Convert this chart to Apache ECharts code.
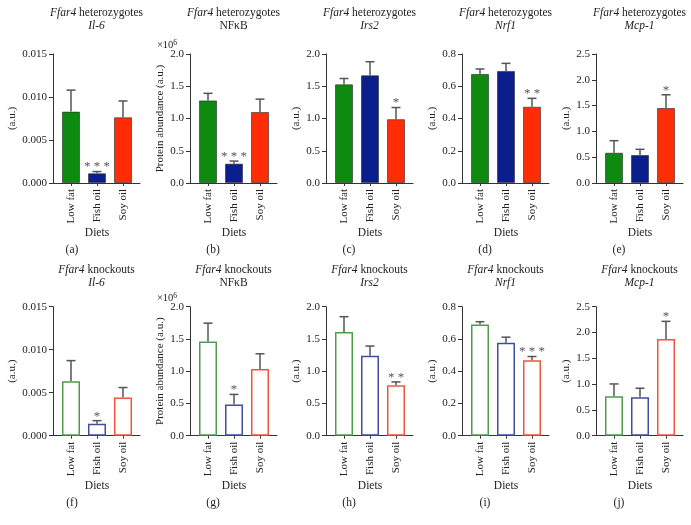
<!DOCTYPE html>
<html>
<head>
<meta charset="utf-8">
<script src="https://cdn.jsdelivr.net/npm/echarts@6/dist/echarts.min.js"></script>
<style>html,body{margin:0;padding:0;background:#fff}#c{width:691px;height:525px}</style>
</head>
<body>
<div id="c"></div>
<script>
// ---------- data ----------
const categories = ['Low fat', 'Fish oil', 'Soy oil'];

const hetIl6 = [0.0083, 0.00113, 0.00764];
const hetIl6Sem = [0.0025, 0.0002, 0.0019];
const hetIl6Stars = ['', '* * *', ''];

const hetNfkb = [1.28, 0.30, 1.10];
const hetNfkbSem = [0.11, 0.04, 0.20];
const hetNfkbStars = ['', '* * *', ''];

const hetIrs2 = [1.53, 1.67, 0.99];
const hetIrs2Sem = [0.09, 0.21, 0.18];
const hetIrs2Stars = ['', '', '*'];

const hetNrf1 = [0.676, 0.695, 0.473];
const hetNrf1Sem = [0.031, 0.047, 0.052];
const hetNrf1Stars = ['', '', '* *'];

const hetMcp1 = [0.587, 0.543, 1.453];
const hetMcp1Sem = [0.233, 0.11, 0.257];
const hetMcp1Stars = ['', '', '*'];

const koIl6 = [0.00633, 0.0014, 0.00443];
const koIl6Sem = [0.0024, 0.00035, 0.00117];
const koIl6Stars = ['', '*', ''];

const koNfkb = [1.46, 0.485, 1.036];
const koNfkbSem = [0.285, 0.155, 0.234];
const koNfkbStars = ['', '*', ''];

const koIrs2 = [1.607, 1.238, 0.783];
const koIrs2Sem = [0.238, 0.152, 0.051];
const koIrs2Stars = ['', '', '* *'];

const koNrf1 = [0.69, 0.576, 0.468];
const koNrf1Sem = [0.017, 0.035, 0.023];
const koNrf1Stars = ['', '', '* * *'];

const koMcp1 = [0.764, 0.745, 1.872];
const koMcp1Sem = [0.239, 0.175, 0.344];
const koMcp1Stars = ['', '', '*'];

// axis scales: [max, interval, decimals]
const il6Axis = [0.015, 0.005, 3];
const nfkbAxis = [2.0, 0.5, 1];
const irs2Axis = [2.0, 0.5, 1];
const nrf1Axis = [0.8, 0.2, 1];
const mcp1Axis = [2.5, 0.5, 1];

const panelLetters = ['(a)','(b)','(c)','(d)','(e)','(f)','(g)','(h)','(i)','(j)'];
const groupNames = ['heterozygotes', 'knockouts'];
const genes = [['Il-6', true], ['NFκB', false], ['Irs2', true], ['Nrf1', true], ['Mcp-1', true]];

// ---------- layout / style ----------
const FONT = 'Liberation Serif';
const TXT = '#222';
const fillColors = ['#0f8a10', '#0a1e8c', '#ff2d05'];
const lineColors = ['#4f9c4f', '#3f4ea2', '#ee5640'];
const colLeft = [53, 190, 326, 462, 596];
const rowTop = [54, 306.7];
const plotH = 129;
const outerW = 87;

const panels = [
  [hetIl6, hetIl6Sem, hetIl6Stars, il6Axis],
  [hetNfkb, hetNfkbSem, hetNfkbStars, nfkbAxis],
  [hetIrs2, hetIrs2Sem, hetIrs2Stars, irs2Axis],
  [hetNrf1, hetNrf1Sem, hetNrf1Stars, nrf1Axis],
  [hetMcp1, hetMcp1Sem, hetMcp1Stars, mcp1Axis],
  [koIl6, koIl6Sem, koIl6Stars, il6Axis],
  [koNfkb, koNfkbSem, koNfkbStars, nfkbAxis],
  [koIrs2, koIrs2Sem, koIrs2Stars, irs2Axis],
  [koNrf1, koNrf1Sem, koNrf1Stars, nrf1Axis],
  [koMcp1, koMcp1Sem, koMcp1Stars, mcp1Axis]
];

const grid = [], xAxis = [], yAxis = [], series = [], title = [];
const axisLineStyle = { color: '#333', width: 1 };

panels.forEach((p, k) => {
  const r = Math.floor(k / 5), c = k % 5;
  const [vals, sems, stars, ax] = p;
  const [max, interval, dec] = ax;
  const L = colLeft[c], T = rowTop[r];
  const isNf = c === 1;
  const gi = 2 * k;

  grid.push({ left: L, top: T, width: outerW, height: plotH });
  grid.push({ left: L + 5, top: T, width: 78, height: plotH });

  xAxis.push({ gridIndex: gi, type: 'value', min: 0, max: 1,
    axisLine: { show: true, lineStyle: axisLineStyle }, axisTick: { show: false },
    axisLabel: { show: false }, splitLine: { show: false } });
  xAxis.push({ gridIndex: gi + 1, type: 'category', data: categories,
    axisLine: { show: false },
    axisTick: { show: true, alignWithLabel: true, length: 3, lineStyle: axisLineStyle },
    axisLabel: { rotate: 90, margin: 6, fontFamily: FONT, fontSize: 11, color: TXT },
    name: 'Diets', nameLocation: 'middle', nameGap: 43,
    nameTextStyle: { fontFamily: FONT, fontSize: 11.5, color: TXT } });

  yAxis.push({ gridIndex: gi, type: 'value', min: 0, max: max, interval: interval,
    axisLine: { show: true, lineStyle: axisLineStyle },
    axisTick: { show: true, length: 4, lineStyle: axisLineStyle },
    axisLabel: { margin: 6, fontFamily: FONT, fontSize: 11, color: TXT,
      formatter: v => v.toFixed(dec) },
    splitLine: { show: false },
    name: isNf ? 'Protein abundance (a.u.)' : '(a.u.)',
    nameLocation: 'middle', nameRotate: 90,
    nameGap: dec === 3 ? 35 : 24,
    nameTextStyle: { fontFamily: FONT, fontSize: 11, color: TXT } });
  yAxis.push({ gridIndex: gi + 1, type: 'value', min: 0, max: max, show: false });

  const filled = r === 0;
  series.push({
    type: 'bar', xAxisIndex: gi + 1, yAxisIndex: gi + 1, barWidth: 18, z: 3,
    data: vals.map((v, i) => ({
      value: v,
      itemStyle: filled
        ? { color: fillColors[i], borderColor: 'rgba(40,40,40,0.6)', borderWidth: 1 }
        : { color: '#ffffff', borderColor: lineColors[i], borderWidth: 1.5 }
    }))
  });

  series.push({
    type: 'custom', xAxisIndex: gi + 1, yAxisIndex: gi + 1, z: 2,
    data: vals.map((v, i) => [i, v, v + sems[i]]),
    renderItem: (params, api) => {
      const i = api.value(0);
      const p0 = api.coord([i, api.value(1)]);
      const p1 = api.coord([i, api.value(2)]);
      const st = { stroke: '#555', lineWidth: 1.5 };
      const children = [
        { type: 'line', shape: { x1: p0[0], y1: p0[1], x2: p1[0], y2: p1[1] }, style: st },
        { type: 'line', shape: { x1: p1[0] - 4.5, y1: p1[1], x2: p1[0] + 4.5, y2: p1[1] }, style: st }
      ];
      const s = stars[i];
      if (s) {
        children.push({ type: 'text', style: { text: s, x: p1[0], y: p1[1] + 2,
          textAlign: 'center', textVerticalAlign: 'bottom',
          fontFamily: FONT, fontSize: 13, fill: '#555' } });
      }
      return { type: 'group', children: children };
    }
  });

  // panel title
  const g = genes[c];
  const second = g[1] ? '{i|' + g[0] + '}' : '{n|' + g[0] + '}';
  title.push({
    text: '{i|Ffar4}{n| ' + groupNames[r] + '}\n' + second,
    left: L + outerW / 2, top: r === 0 ? 7 : 264, textAlign: 'center', padding: 0,
    textStyle: { fontWeight: 'normal', lineHeight: 12.5, rich: {
      i: { fontFamily: FONT, fontSize: 11.5, fontStyle: 'italic', fontWeight: 'normal', color: TXT, lineHeight: 12.5 },
      n: { fontFamily: FONT, fontSize: 11.5, fontWeight: 'normal', color: TXT, lineHeight: 12.5 } } }
  });
  // panel letter
  title.push({
    text: panelLetters[k], left: L + (c === 0 ? 19 : 23), top: r === 0 ? 244 : 497,
    textAlign: 'center', padding: 0,
    textStyle: { fontFamily: FONT, fontSize: 11.5, fontWeight: 'normal', color: TXT }
  });
  if (isNf) {
    title.push({
      text: '{n|×10}{s|6}', left: L - 23, top: T - 15, textAlign: 'center', padding: 0,
      textStyle: { fontWeight: 'normal', rich: {
        n: { fontFamily: FONT, fontSize: 10.5, fontWeight: 'normal', color: TXT, lineHeight: 12, verticalAlign: 'bottom' },
        s: { fontFamily: FONT, fontSize: 7.5, fontWeight: 'normal', color: TXT, lineHeight: 12, verticalAlign: 'top' } } }
    });
  }
});

const chart = echarts.init(document.getElementById('c'), null, { renderer: 'canvas' });
chart.setOption({
  animation: false,
  backgroundColor: '#ffffff',
  title: title, grid: grid, xAxis: xAxis, yAxis: yAxis, series: series
});
</script>
</body>
</html>
